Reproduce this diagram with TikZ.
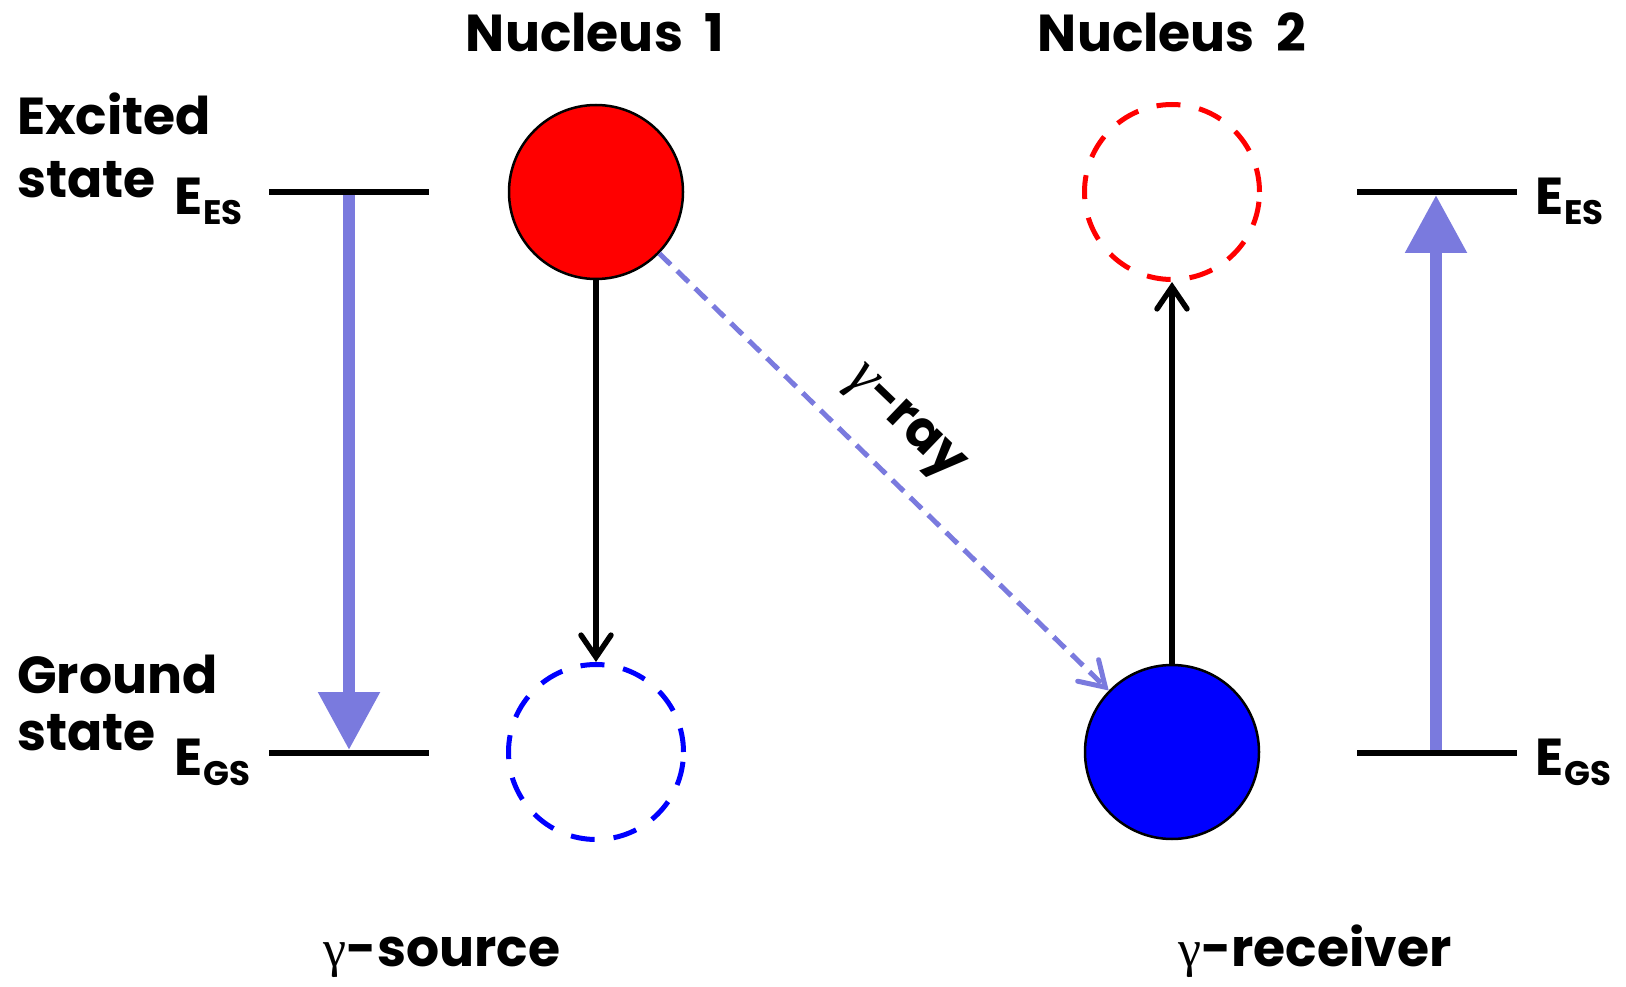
\documentclass[tikz,border=0pt]{standalone}
\usepackage{fontspec}
\setmainfont{Poppins}[BoldFont={* Bold}]
\newfontfamily\gfont{Liberation Serif}
\usetikzlibrary{arrows.meta}
\definecolor{arrblue}{RGB}{122,122,222}
\newcommand{\txtsize}{\fontsize{52}{58}\selectfont\bfseries}
\newcommand{\subsz}{\fontsize{34}{36}\selectfont\bfseries}
\newcommand{\Elab}[1]{E\kern1pt\raisebox{-10pt}{\subsz #1}}
\begin{document}
\begin{tikzpicture}[x=1pt,y=-1pt,
  txt/.style={inner sep=0pt, font=\txtsize},
  fullc/.style={circle, draw=black, line width=2.5pt, minimum size=174pt, inner sep=0pt},
  dashc/.style={circle, line width=5pt, dash pattern=on 24pt off 19pt, minimum size=175pt, inner sep=0pt},
  level/.style={line width=6pt},
  trans/.style={arrblue, line width=12pt, -{Triangle[length=58pt,width=59pt]}},
  blk/.style={line width=5.5pt, -{Straight Barb[length=22pt,width=30pt,line cap=round]}},
  gam/.style={arrblue, line width=5pt, dash pattern=on 16pt off 9pt, -{Straight Barb[length=24pt,width=30pt,line cap=round]}}
]
\useasboundingbox (0,0) rectangle (1626,987);
% nuclei
\node[fullc, fill=red] (n1) at (596,192) {};
\node[dashc, draw=blue] (g1) at (596,752) {};
\node[dashc, draw=red] (e2) at (1172,192) {};
\node[fullc, fill=blue] (n2) at (1172,752) {};
% level lines
\coordinate (lea) at (269,192); \coordinate (leb) at (429,192);
\coordinate (lga) at (269,753); \coordinate (lgb) at (429,753);
\coordinate (rea) at (1357,192); \coordinate (reb) at (1517,192);
\coordinate (rga) at (1357,753); \coordinate (rgb) at (1517,753);
\draw[level] (lea) -- (leb);
\draw[level] (lga) -- (lgb);
\draw[level] (rea) -- (reb);
\draw[level] (rga) -- (rgb);
% transition arrows
\coordinate (ta) at (349,195); \coordinate (tb) at (349,750);
\coordinate (tc) at (1436,750); \coordinate (td) at (1436,195);
\draw[trans] (ta) -- (tb);
\draw[trans] (tc) -- (td);
% black arrows
\draw[blk] (n1.south) -- (g1.north);
\draw[blk] (n2.north) -- (e2.south);
% gamma ray
\draw[gam] (n1) -- (n2);
\node[txt, rotate=-43.8] (gr) at (903,425) {{\gfont\itshape\mdseries\fontsize{60}{60}\selectfont γ}-ray};
% labels
\node[txt, anchor=base] (t1) at (595,52) {Nucleus\ \hspace{0.2em}1};
\node[txt, anchor=base] (t2) at (1172,52) {Nucleus\ \hspace{0.2em}2};
\node[txt, anchor=base west] (ex1) at (17,135) {Excited};
\node[txt, anchor=base west] (ex2) at (17,198) {state};
\node[txt, anchor=base west] (gr1) at (17,693) {Ground};
\node[txt, anchor=base west] (gr2) at (17,750) {state};
\node[txt, anchor=base west] (ees1) at (174,215) {\Elab{ES}};
\node[txt, anchor=base west] (egs1) at (174,775) {\Elab{GS}};
\node[txt, anchor=base west] (ees2) at (1535,215) {\Elab{ES}};
\node[txt, anchor=base west] (egs2) at (1535,775) {\Elab{GS}};
\node[txt, anchor=base] (src) at (442,966) {{\gfont\mdseries γ}-source};
\node[txt, anchor=base] (rcv) at (1315,966) {{\gfont\mdseries γ}-receiver};
\end{tikzpicture}
\end{document}
